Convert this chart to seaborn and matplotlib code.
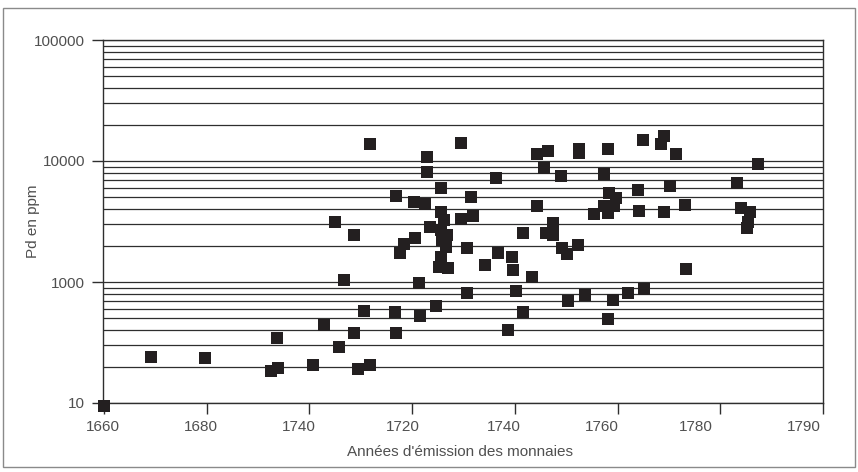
import matplotlib
matplotlib.use("Agg")
import matplotlib.pyplot as plt
import matplotlib.ticker as mticker
from matplotlib.patches import Rectangle
import pandas as pd
import seaborn as sns

# values
years = [
    1660.0, 1669.1, 1679.6, 1693.6, 1693.9, 1692.5,
    1711.7, 1729.6, 1722.8, 1722.8, 1736.4, 1725.7, 1716.8, 1731.5, 1720.3, 1722.5,
    1725.7, 1726.2, 1729.6, 1731.9, 1704.9, 1708.6, 1723.4, 1725.7, 1726.8, 1725.8,
    1726.5, 1725.7, 1725.2, 1727.0, 1720.5, 1718.4, 1717.6, 1730.6, 1734.1, 1736.8,
    1706.7, 1721.4, 1730.6, 1724.6, 1710.7, 1716.6, 1721.6, 1702.8, 1708.6, 1716.8,
    1705.7, 1700.6, 1709.4, 1711.7,
    1764.9, 1769.0, 1768.5, 1771.3, 1752.4, 1752.4, 1758.2, 1744.4, 1746.4, 1745.6,
    1748.9, 1757.4, 1764.0, 1770.2, 1758.4, 1759.7, 1757.4, 1759.4, 1755.5, 1758.2,
    1744.4, 1764.2, 1769.0, 1773.2, 1747.5, 1741.5, 1746.1, 1747.5, 1749.2, 1750.2,
    1752.2, 1739.5, 1739.7, 1743.4, 1740.3, 1741.5, 1738.6, 1750.4, 1753.7, 1759.2,
    1762.1, 1765.1, 1758.2, 1773.4,
    1787.4, 1783.3, 1784.0, 1785.7, 1785.3, 1785.2,
]
pd_ppm = [
    94, 241, 236, 347, 196, 185,
    13740, 14170, 10860, 8160, 7280, 5950, 5140, 5070, 4610, 4410,
    3810, 3250, 3300, 3530, 3150, 2460, 2830, 2690, 2430, 2220,
    1935, 1620, 1338, 1312, 2295, 2050, 1730, 1920, 1390, 1750,
    1040, 987, 817, 637, 576, 565, 527, 444, 381, 381,
    292, 208, 192, 208,
    15000, 16200, 13800, 11500, 12640, 11570, 12560, 11500, 12170, 8760,
    7570, 7850, 5760, 6250, 5410, 4980, 4280, 4280, 3660, 3740,
    4280, 3880, 3810, 4330, 3050, 2560, 2560, 2445, 1900, 1700,
    2035, 1620, 1264, 1107, 847, 569, 401, 701, 785, 714,
    817, 881, 498, 1288,
    9500, 6540, 4110, 3810, 3150, 2780,
]

x_tick_years = [1660, 1680, 1700, 1720, 1740, 1760, 1780, 1800]
x_label_pos = [1659.8, 1678.9, 1697.9, 1718.1, 1737.8, 1757.0, 1775.3, 1796.3]
x_labels = ["1660", "1680", "1740", "1720", "1740", "1760", "1780", "1790"]
y_ticks = [100, 1000, 10000, 100000]
y_labels = ["10", "1000", "10000", "100000"]

TEXT = "#505050"
LINE = "#2e2e2e"

sns.set_theme(style="white")
plt.rcParams["font.family"] = ["Liberation Sans", "DejaVu Sans"]

df = pd.DataFrame({"annee": years, "pd": pd_ppm})

fig = plt.figure(figsize=(8.58, 4.72), dpi=100)
ax = fig.add_axes([103 / 858, 1 - 403 / 472, 720 / 858, 363 / 472])

ax.set_yscale("log")
ax.set_xlim(1660, 1800)
ax.set_ylim(100, 100000)

ax.yaxis.set_major_locator(mticker.FixedLocator(y_ticks))
ax.yaxis.set_major_formatter(mticker.FixedFormatter(y_labels))
ax.yaxis.set_minor_locator(mticker.LogLocator(base=10, subs=range(2, 10), numticks=20))
ax.yaxis.set_minor_formatter(mticker.NullFormatter())
ax.grid(which="both", axis="y", color=LINE, linewidth=0.9)
ax.grid(False, axis="x")
ax.set_axisbelow(True)

sns.scatterplot(data=df, x="annee", y="pd", marker="s", s=78, color="#231f20",
                linewidth=0, ax=ax, clip_on=False, zorder=3, legend=False)

ax.set_xticks(x_label_pos)
ax.set_xticklabels(x_labels)
ax.set_xticks(x_tick_years, minor=True)
ax.tick_params(axis="x", which="major", length=0, pad=12, labelsize=11, labelcolor=TEXT)
ax.tick_params(axis="x", which="minor", length=8, width=1, color=LINE, direction="out", bottom=True)
ax.tick_params(axis="y", which="major", length=8, width=1, color=LINE, direction="out",
               left=True, pad=5, labelsize=11, labelcolor=TEXT)
ax.tick_params(axis="y", which="minor", length=0)

for side in ["left", "bottom", "right", "top"]:
    ax.spines[side].set_visible(True)
    ax.spines[side].set_color(LINE)
    ax.spines[side].set_linewidth(1)

ax.set_xlabel("Années d'émission des monnaies", fontsize=11, color=TEXT)
ax.set_ylabel("Pd en ppm", fontsize=11, color=TEXT)
ax.xaxis.set_label_coords(0.496, -0.115)
ax.yaxis.set_label_coords(-0.087, 0.5)

fig.patches.append(Rectangle((3 / 858, 1 - 467 / 472), 852 / 858, 459 / 472,
                             transform=fig.transFigure, fill=False,
                             edgecolor="#8a8a8a", linewidth=1))

fig.savefig("out.png", dpi=100)
